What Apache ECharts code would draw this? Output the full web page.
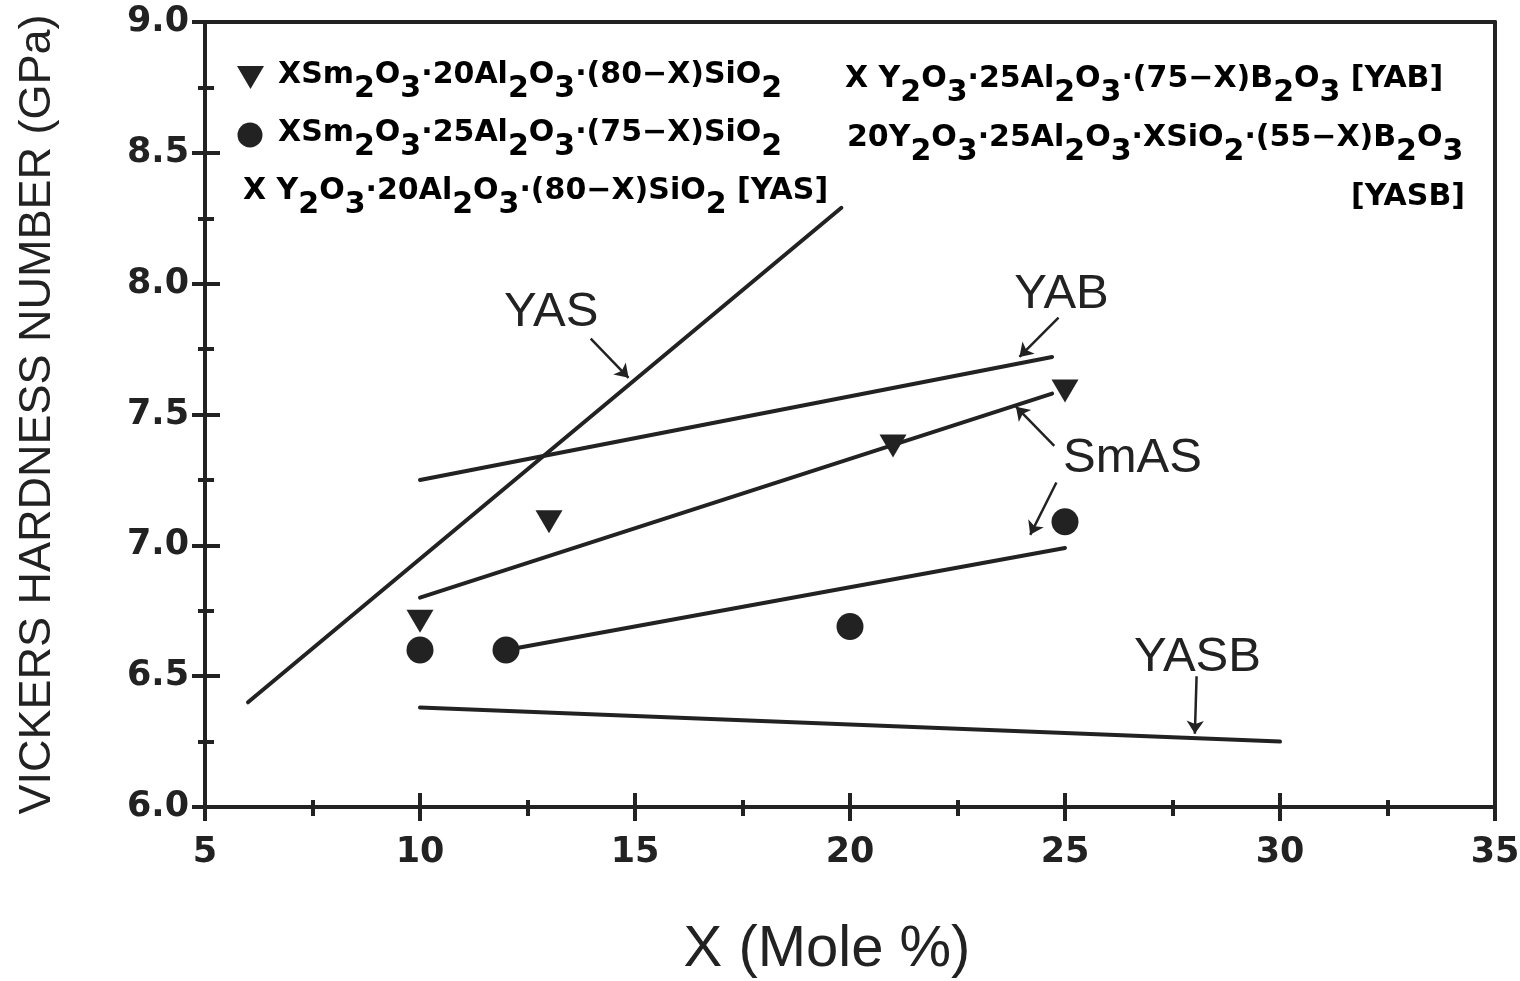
<!DOCTYPE html>
<html>
<head>
<meta charset="utf-8">
<title>Vickers hardness vs. composition</title>
<script src="https://cdn.jsdelivr.net/npm/echarts@6/dist/echarts.min.js"></script>
<style>
  html, body { margin: 0; padding: 0; background: #ffffff; }
  #chart { width: 1520px; height: 981px; }
</style>
</head>
<body>
<div id="chart"></div>
<script>
// ---- data (X in mole %, hardness in GPa) ----
const xTicks = [5, 10, 15, 20, 25, 30, 35];
const yTicks = [6.0, 6.5, 7.0, 7.5, 8.0, 8.5, 9.0];

// measured points
const smAl20Points = [[10, 6.71], [13, 7.09], [21, 7.38], [25, 7.59]];
const smAl25Points = [[10, 6.60], [12, 6.60], [20, 6.69], [25, 7.09]];

// fitted / trend lines
const yasLine   = [[6, 6.40], [19.8, 8.29]];
const yabLine   = [[10, 7.25], [24.7, 7.72]];
const smAl20Fit = [[10, 6.80], [24.7, 7.58]];
const smAl25Fit = [[12, 6.60], [25, 6.99]];
const yasbLine  = [[10, 6.38], [30, 6.25]];

// line labels and their pointer arrows (data units)
const lineLabels = [[13.05, 7.89, 'YAS'], [24.92, 7.96, 'YAB'], [26.57, 7.33, 'SmAS'], [28.08, 6.57, 'YASB']];
const pointerArrows = [
  [[13.97, 7.79], [14.85, 7.64]],
  [[24.85, 7.87], [23.94, 7.72]],
  [[24.75, 7.38], [23.86, 7.53]],
  [[24.80, 7.24], [24.19, 7.04]],
  [[28.06, 6.50], [28.02, 6.28]]
];

// legend entries (_n marks a subscript digit)
const legendLeft  = ['XSm_2O_3·20Al_2O_3·(80−X)SiO_2', 'XSm_2O_3·25Al_2O_3·(75−X)SiO_2', 'X Y_2O_3·20Al_2O_3·(80−X)SiO_2 [YAS]'];
const legendRight = ['X Y_2O_3·25Al_2O_3·(75−X)B_2O_3 [YAB]', '20Y_2O_3·25Al_2O_3·XSiO_2·(55−X)B_2O_3', '[YASB]'];

const INK = '#222222';
const BOLD_FONT = '"DejaVu Sans", sans-serif';
const PLAIN_FONT = '"Liberation Sans", Arial, sans-serif';

function chem(str) {
  return '{t|' + str.replace(/_(\d)/g, '}{s|$1}{t|') + '}';
}
const chemRich = {
  t: { fontFamily: BOLD_FONT, fontWeight: 'bold', fontSize: 30, lineHeight: 32, verticalAlign: 'top', color: INK },
  s: { fontFamily: BOLD_FONT, fontWeight: 'bold', fontSize: 30, lineHeight: 32, verticalAlign: 'top', color: INK, padding: [14, 0, 0, 0] }
};
function legendText(str, x, y, align) {
  return {
    type: 'text', x: x, y: y, silent: true,
    style: { text: chem(str), rich: chemRich, align: align || 'left', verticalAlign: 'top' }
  };
}

function baseX(extra) {
  return Object.assign({
    type: 'value', min: 5, max: 35, interval: 5, gridIndex: 0,
    splitLine: { show: false }, minorSplitLine: { show: false }
  }, extra);
}
function baseY(extra) {
  return Object.assign({
    type: 'value', min: 6, max: 9, interval: 0.5, gridIndex: 0,
    splitLine: { show: false }, minorSplitLine: { show: false }
  }, extra);
}

const tickLabel = { fontFamily: '"DejaVu Sans", sans-serif', fontWeight: 'bold', fontSize: 35, color: INK };

const lineSeries = (name, data) => ({
  name: name, type: 'line', data: data, symbol: 'none', silent: true,
  lineStyle: { color: INK, width: 4, cap: 'round' }, z: 3
});

const chart = echarts.init(document.getElementById('chart'), null, { renderer: 'canvas' });
chart.setOption({
  backgroundColor: '#ffffff',
  animation: false,
  grid: { left: 205, right: 25, top: 22, bottom: 174, containLabel: false, outerBoundsMode: 'none' },
  xAxis: [
    baseX({
      position: 'bottom',
      name: 'X (Mole %)', nameLocation: 'middle', nameGap: 114,
      nameTextStyle: { fontFamily: PLAIN_FONT, fontSize: 58, color: INK, padding: [0, 46, 0, 0] },
      axisLine: { lineStyle: { color: INK, width: 4 } },
      axisTick: { show: true, inside: false, length: 14, lineStyle: { color: INK, width: 4 } },
      minorTick: { show: true, splitNumber: 2, length: 9, lineStyle: { color: INK, width: 4 } },
      axisLabel: Object.assign({ margin: 28, formatter: v => String(v) }, tickLabel)
    }),
    baseX({
      position: 'bottom',
      axisLine: { show: false },
      axisTick: { show: true, inside: true, length: 14, lineStyle: { color: INK, width: 4 } },
      minorTick: { show: true, splitNumber: 2, length: 7, lineStyle: { color: INK, width: 4 } },
      axisLabel: { show: false }
    }),
    baseX({
      position: 'top',
      axisLine: { lineStyle: { color: INK, width: 4 } },
      axisTick: { show: false }, axisLabel: { show: false }
    })
  ],
  yAxis: [
    baseY({
      position: 'left',
      name: 'VICKERS HARDNESS NUMBER (GPa)', nameLocation: 'middle', nameGap: 145, nameRotate: 90,
      nameTextStyle: { fontFamily: PLAIN_FONT, fontSize: 45, color: INK },
      axisLine: { lineStyle: { color: INK, width: 4 } },
      axisTick: { show: true, inside: false, length: 13, lineStyle: { color: INK, width: 4 } },
      minorTick: { show: true, splitNumber: 2, length: 7, lineStyle: { color: INK, width: 4 } },
      axisLabel: Object.assign({ margin: 16, formatter: v => v.toFixed(1) }, tickLabel)
    }),
    baseY({
      position: 'left',
      axisLine: { show: false },
      axisTick: { show: true, inside: true, length: 15, lineStyle: { color: INK, width: 4 } },
      minorTick: { show: true, splitNumber: 2, length: 9, lineStyle: { color: INK, width: 4 } },
      axisLabel: { show: false }
    }),
    baseY({
      position: 'right',
      axisLine: { lineStyle: { color: INK, width: 4 } },
      axisTick: { show: false }, axisLabel: { show: false }
    })
  ],
  series: [
    lineSeries('YAS', yasLine),
    lineSeries('YAB', yabLine),
    lineSeries('SmAS 20Al2O3 fit', smAl20Fit),
    lineSeries('SmAS 25Al2O3 fit', smAl25Fit),
    lineSeries('YASB', yasbLine),
    {
      name: 'XSm2O3·20Al2O3·(80−X)SiO2', type: 'scatter', data: smAl20Points,
      symbol: 'triangle', symbolRotate: 180, symbolSize: [27, 23],
      itemStyle: { color: INK, opacity: 1 }, z: 4, silent: true
    },
    {
      name: 'XSm2O3·25Al2O3·(75−X)SiO2', type: 'scatter', data: smAl25Points,
      symbol: 'circle', symbolSize: 27,
      itemStyle: { color: INK, opacity: 1 }, z: 4, silent: true
    },
    {
      name: 'pointers', type: 'lines', coordinateSystem: 'cartesian2d', silent: true,
      symbol: ['none', 'arrow'], symbolSize: 13,
      lineStyle: { color: INK, width: 2.5, opacity: 1 },
      data: pointerArrows.map(c => ({ coords: c })), z: 5
    },
    {
      name: 'line labels', type: 'scatter', silent: true,
      data: lineLabels, symbolSize: 1,
      itemStyle: { color: 'rgba(0,0,0,0)', opacity: 1 },
      label: {
        show: true, position: 'inside', formatter: p => p.data[2],
        fontFamily: PLAIN_FONT, fontSize: 49, color: INK, opacity: 1
      }, z: 5
    }
  ],
  graphic: [
    { type: 'polygon', silent: true, shape: { points: [[237, 66], [264, 66], [250.5, 89]] }, style: { fill: INK } },
    { type: 'circle', silent: true, shape: { cx: 250, cy: 135, r: 12.5 }, style: { fill: INK } },
    legendText(legendLeft[0], 278, 60),
    legendText(legendLeft[1], 278, 118),
    legendText(legendLeft[2], 243, 176),
    legendText(legendRight[0], 845, 64),
    legendText(legendRight[1], 847, 123),
    legendText(legendRight[2], 1465, 182, 'right')
  ]
});
</script>
</body>
</html>
